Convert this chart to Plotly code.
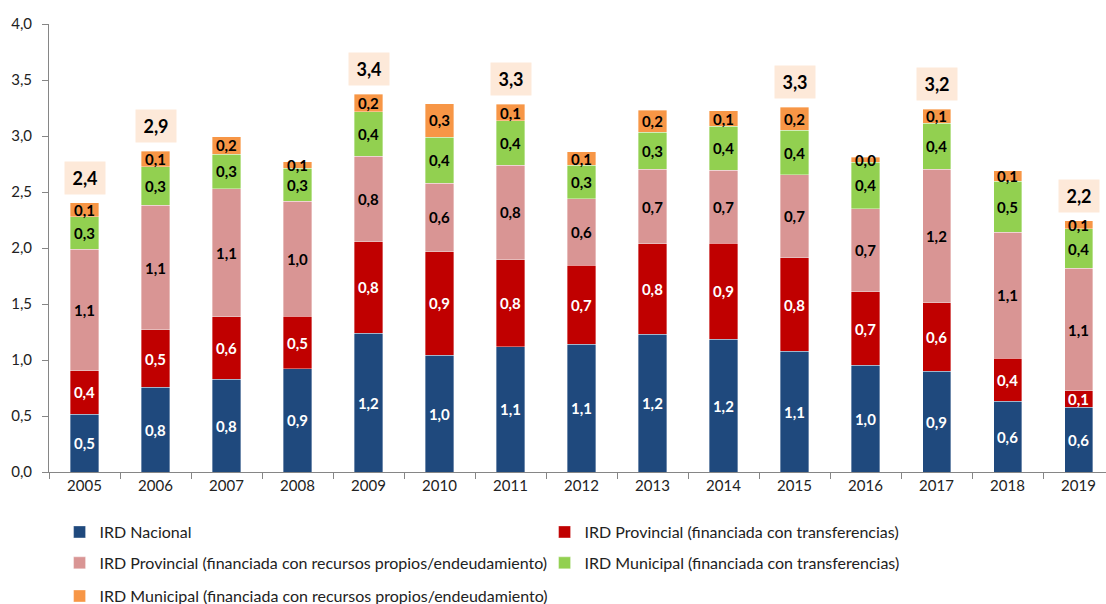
import plotly.graph_objects as go

years = [str(y) for y in range(2005, 2020)]
ird_nacional = [0.515, 0.755, 0.83, 0.92, 1.241, 1.044, 1.119, 1.14, 1.229, 1.187, 1.077, 0.952, 0.899, 0.631, 0.58]
ird_prov_transf = [0.39, 0.513, 0.557, 0.47, 0.813, 0.922, 0.777, 0.708, 0.81, 0.854, 0.837, 0.658, 0.613, 0.384, 0.146]
ird_prov_propios = [1.083, 1.113, 1.143, 1.027, 0.764, 0.613, 0.843, 0.592, 0.663, 0.654, 0.74, 0.742, 1.19, 1.125, 1.092]
ird_muni_transf = [0.29, 0.345, 0.309, 0.294, 0.399, 0.411, 0.396, 0.298, 0.331, 0.39, 0.396, 0.414, 0.411, 0.455, 0.352]
ird_muni_propios = [0.125, 0.14, 0.155, 0.057, 0.155, 0.298, 0.149, 0.122, 0.196, 0.142, 0.208, 0.044, 0.128, 0.095, 0.074]
total_label_years = ["2005", "2006", "2009", "2011", "2015", "2017", "2019"]

series_names = [
    "IRD Nacional",
    "IRD Provincial (financiada con transferencias)",
    "IRD Provincial (financiada con recursos propios/endeudamiento)",
    "IRD Municipal (financiada con transferencias)",
    "IRD Municipal (financiada con recursos propios/endeudamiento)",
]
series_values = [ird_nacional, ird_prov_transf, ird_prov_propios, ird_muni_transf, ird_muni_propios]
colors = ["#1F497D", "#C00000", "#D99594", "#92D050", "#F79646"]
text_colors = ["white", "white", "black", "black", "black"]
legend_ids = ["legend", "legend", "legend2", "legend2", "legend3"]

FONT = "Lato"


def fmt(v):
    return f"{v:.1f}".replace(".", ",")


fig = go.Figure()
for name, vals, col, tcol, lg in zip(series_names, series_values, colors, text_colors, legend_ids):
    fig.add_trace(go.Bar(
        x=years, y=vals, name=name,
        marker=dict(color=col, line=dict(color="rgba(255,255,255,0.6)", width=0.6)),
        text=[fmt(v) for v in vals],
        textposition="inside", insidetextanchor="middle", textangle=0,
        textfont=dict(family=FONT, size=15, color=tcol, weight="bold"),
        legend=lg,
    ))

totals = [sum(v) for v in zip(*series_values)]
for i, (yr, tot) in enumerate(zip(years, totals)):
    if yr in total_label_years:
        fig.add_annotation(
            xref="x", yref="y", x=i, y=tot, text="<b>" + fmt(tot) + "</b>", showarrow=False,
            yanchor="middle", yshift=25, width=38, height=30,
            bgcolor="#FDE9D9",
            font=dict(family=FONT, size=18, color="black"),
        )

axis_col = "#868686"
leg_common = dict(orientation="h", xanchor="left", x=0.01, yanchor="middle",
                  font=dict(family=FONT, size=16, color="#222"),
                  bgcolor="rgba(0,0,0,0)", traceorder="normal")
two_col = dict(entrywidth=440, entrywidthmode="pixels")

fig.update_layout(
    width=1106, height=604,
    margin=dict(l=49, r=0, t=24, b=132, autoexpand=False),
    barmode="stack", bargap=0.605,
    plot_bgcolor="white", paper_bgcolor="white",
    separators=",.",
    font=dict(family=FONT, size=15, color="#222"),
    uniformtext=dict(mode="show", minsize=15),
    xaxis=dict(type="category", range=[-0.5, 14.387], showline=True, linecolor=axis_col,
               linewidth=1, ticks="outside", tickson="boundaries", ticklen=6,
               tickcolor=axis_col, tickfont=dict(family=FONT, size=15, color="#222"),
               showgrid=False, automargin=False),
    yaxis=dict(range=[0, 4], dtick=0.5, tickformat=".1f", showline=True, linecolor=axis_col,
               linewidth=1, ticks="outside", ticklen=6, tickcolor=axis_col,
               tickfont=dict(family=FONT, size=15, color="#222"), showgrid=False,
               zeroline=False, automargin=False, ticklabelstandoff=7),
    legend=dict(**leg_common, **two_col, y=-0.134),
    legend2=dict(**leg_common, **two_col, y=-0.203),
    legend3=dict(**leg_common, y=-0.277),
)

fig.write_html("out.html", config={"displayModeBar": False},
               post_script="document.body.style.margin='0';")
